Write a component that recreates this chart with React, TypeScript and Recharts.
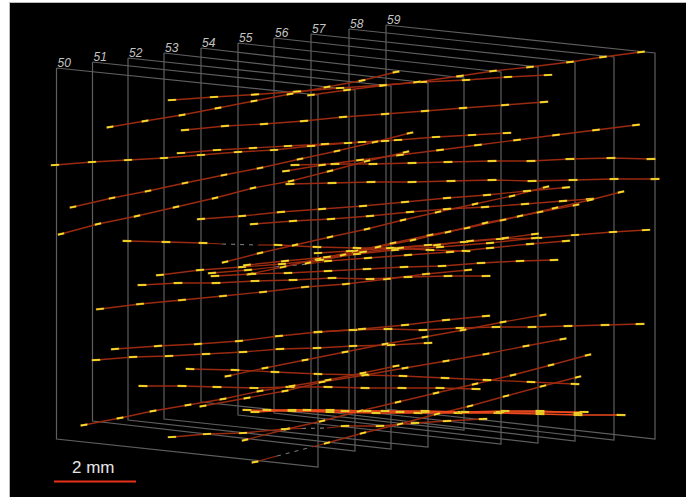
/**
 * Particle tracks through ten detector planes (50-59), seen in perspective.
 * Everything is a Scatter on hidden 1:1 pixel axes; yellow dashes are plane hits.
 */
import type { ReactElement } from "react";
import { ScatterChart, Scatter, XAxis, YAxis } from "recharts";

type Pt = [number, number];

const WIDTH = 686;
const HEIGHT = 497;

const planeLabels = ["50", "51", "52", "53", "54", "55", "56", "57", "58", "59"];
const planeLeftX = [56.5, 92.5, 128, 164, 201, 238, 274, 311, 349, 386];
const planeRightX = [318, 355, 391, 428, 464, 501, 538, 575, 614, 655];
const planeTopLeftY = [68, 62, 58, 53, 48, 43, 38, 34, 29, 25];
const planeTopRightY = [95, 90, 86, 83, 78, 72, 67, 62, 57, 53];
const planeBottomLeftY = [439, 421, 420, 419, 402, 415, 413, 410, 410, 409];
const planeBottomRightY = [467, 451, 449, 447, 430, 444, 443, 441, 440, 439];

// upper tracks
const trackTop1: Pt[] = [[172, 100], [214, 97], [255, 94.5], [297, 91.5], [340, 88], [383, 85], [423, 82], [466, 80], [508, 77], [548, 75]];
const trackTop2: Pt[] = [[311, 95], [347, 90], [383, 85.5], [417, 82], [460, 76], [493, 71], [530, 67], [570, 62], [603, 57], [641, 52]];
const trackTop3: Pt[] = [[110, 127], [145, 121], [182, 115], [218, 108], [254, 101], [290, 94], [327, 87], [362, 80.5], [396, 72]];
const trackTop4: Pt[] = [[185, 130], [225, 126], [264, 124], [304, 121], [343, 117], [385, 114], [425, 111], [463, 108], [505, 105], [544, 102]];
const trackUp1: Pt[] = [[55, 165], [92, 162], [128, 160], [164, 158], [201, 155], [238, 152], [274, 150], [311, 146], [348, 143], [385, 141]];
const trackUp2: Pt[] = [[181, 153], [217, 150], [253, 148], [288, 146], [325, 144], [362, 142], [398, 140], [436, 137], [472, 135], [507, 133]];
const trackUp3: Pt[] = [[73, 207], [112, 198], [148, 191], [185, 183], [224, 175], [260, 168], [300, 159], [337, 151], [375, 142], [410, 133]];
const trackUp4: Pt[] = [[61, 234], [98, 224], [137, 216], [176, 207], [215, 198], [253, 188], [291, 181], [330, 171], [367, 161], [406, 152]];
const trackUp5: Pt[] = [[286, 171], [322, 165], [360, 160], [400, 155], [440, 150], [478, 145], [517, 140], [556, 135], [596, 130], [636, 125]];
const trackFlat1: Pt[] = [[295, 165], [335, 164], [373, 164], [412, 163], [448, 162], [492, 161], [531, 161], [570, 159], [611, 158], [651, 159]];
const trackFlat2: Pt[] = [[290, 184], [332, 183], [371, 182], [412, 182], [451, 181], [492, 180], [532, 181], [573, 180], [614, 179], [655, 179]];
const trackMid1: Pt[] = [[201, 219], [242, 216], [281, 212], [322, 209], [363, 206], [405, 202], [447, 198], [487, 195], [527, 191], [566, 187.5]];
const trackMid2: Pt[] = [[254, 224], [293, 221], [331, 219], [370, 216], [410, 212], [447, 209], [485, 207], [525, 204], [563, 201], [590, 199]];

// central cluster
const trackRise1: Pt[] = [[225, 262], [260, 253], [295, 245], [330, 237], [367, 229], [403, 220], [438, 212], [475, 204], [512, 196], [546, 187]];
const trackRise2: Pt[] = [[250, 274], [283, 267], [318, 259], [355, 251], [393, 243], [430, 235], [467, 228], [503, 220], [540, 212], [576, 205]];
const trackRise3: Pt[] = [[308, 263], [343, 255], [378, 247], [413, 240], [448, 232], [485, 223], [520, 216], [555, 208], [590, 200], [621, 192]];
const trackGapA1: Pt[] = [[127, 241], [166, 242], [203, 243]];
const trackGapA2: Pt[] = [[278, 245], [317, 247], [357, 248], [392, 248], [430, 250], [466, 251]];
const trackLong1: Pt[] = [[318, 253], [350, 251], [390, 248], [428, 245], [464, 242], [500, 239], [538, 238], [575, 235], [613, 232], [646, 230]];
const trackSlant1: Pt[] = [[160, 275], [200, 270], [242, 267], [282, 264], [320, 260], [357, 254], [395, 250], [440, 247], [490, 243], [535, 238]];
const trackSlant2: Pt[] = [[247, 265], [285, 261], [327, 257], [363, 252], [400, 248], [437, 245], [470, 241], [505, 238], [535, 234]];
const trackGapB1: Pt[] = [[212, 273], [248, 270]];
const trackGapB2: Pt[] = [[328, 261], [368, 258], [408, 255], [450, 252], [490, 248], [530, 244], [566, 241]];
const trackRow1: Pt[] = [[142, 285], [178, 283], [216, 283], [255, 281], [293, 280], [332, 278], [370, 279], [408, 277], [448, 276], [486, 276]];
const trackRow2: Pt[] = [[215, 276], [252, 274], [288, 273], [328, 271], [367, 269], [404, 267], [442, 266], [481, 263], [520, 261], [554, 260]];
const trackRow3: Pt[] = [[100, 309], [140, 304], [182, 300], [223, 296], [263, 292], [305, 287], [346, 284], [387, 279], [426, 274], [468, 270]];

// lower tracks
const trackLow1: Pt[] = [[115, 349], [158, 346], [198, 344], [239, 341], [279, 336], [318, 332], [362, 329], [405, 325], [446, 320], [486, 316]];
const trackLow2: Pt[] = [[318, 332], [353, 330], [388, 329], [423, 330], [460, 328], [496, 327], [532, 327], [568, 326], [605, 325], [640, 324]];
const trackLow3: Pt[] = [[96, 360], [133, 357], [169, 356], [206, 354], [243, 352], [280, 349], [317, 348], [353, 346], [391, 345], [428, 343]];
const trackLow4: Pt[] = [[190, 369], [235, 370], [275, 372], [318, 374], [365, 375], [403, 376], [445, 378], [487, 380], [531, 382], [575, 384]];
const trackLow5: Pt[] = [[228, 376], [265, 368], [305, 360], [345, 352], [385, 344], [425, 337], [463, 330], [503, 322], [543, 315]];
const trackLow6: Pt[] = [[143, 386], [182, 386], [217, 387], [254, 388], [290, 387], [328, 387], [365, 388], [402, 388], [440, 388], [476, 389]];
const trackLow7: Pt[] = [[84, 425], [120, 418], [153, 411], [188, 405], [223, 399], [260, 391], [292, 386], [328, 380], [363, 373], [396, 366]];
const trackLow8: Pt[] = [[203, 406], [247, 398], [285, 391], [322, 382], [365, 375], [405, 368], [446, 361], [486, 354], [526, 346], [563, 339]];
const trackLow9: Pt[] = [[245, 440], [287, 429], [322, 421], [360, 411], [398, 402], [436, 393], [475, 384], [513, 375], [551, 365], [588, 355]];
const trackGapC1: Pt[] = [[255, 462]];
const trackGapC2: Pt[] = [[327, 443], [363, 433], [400, 424], [437, 414], [470, 406], [506, 396], [543, 386], [578, 377]];
const trackGapD1: Pt[] = [[172, 437], [207, 434], [243, 433], [285, 429]];
const trackGapD2: Pt[] = [[345, 426], [380, 426], [415, 423], [447, 421], [483, 419]];

// bright bundle along the floor
const bundle1: Pt[] = [[247, 410], [292, 411], [330, 412], [376, 413], [418, 413], [458, 413], [498, 413], [540, 414], [578, 415], [621, 415]];
const bundle2: Pt[] = [[255, 412], [292, 410], [330, 410], [367, 411], [400, 412], [425, 412], [462, 412], [500, 412], [540, 412], [584, 412]];
const bundle3: Pt[] = [[267, 410], [307, 410], [345, 411], [385, 411], [425, 411], [465, 412], [505, 411], [540, 411], [578, 413]];

const tracks: Pt[][] = [
  trackTop1, trackTop2, trackTop3, trackTop4, trackUp1, trackUp2, trackUp3, trackUp4, trackUp5,
  trackFlat1, trackFlat2, trackMid1, trackMid2, trackRise1, trackRise2, trackRise3,
  trackGapA2, trackLong1, trackSlant1, trackSlant2, trackGapB2, trackRow1, trackRow2, trackRow3,
  trackLow1, trackLow2, trackLow3, trackLow4, trackLow5, trackLow6, trackLow7, trackLow8, trackLow9,
  trackGapC2, trackGapD1, trackGapD2,
];
const shortTracks: Pt[][] = [trackGapA1, trackGapB1, trackGapC1];
const bundleTracks: Pt[][] = [bundle1, bundle2, bundle3];

// stretches where a track fades out: solid leads, then grey dashes
const gapLeads: Pt[][] = [
  [[203, 243], [222, 244]],
  [[258, 245], [278, 245]],
  [[248, 270], [275, 267]],
  [[308, 264], [328, 261]],
  [[255, 462], [277, 456]],
  [[312, 447], [327, 443]],
  [[285, 429], [302, 428.5]],
  [[327, 428], [345, 426]],
];
const gapDashes: Pt[][] = [
  [[222, 244], [258, 245]],
  [[275, 267], [308, 264]],
  [[277, 456], [312, 447]],
  [[302, 428.5], [327, 428]],
];

const scaleBar: Pt[] = [[54, 481.5], [136, 481.5]];
const scaleLabel = "2 mm";
const scaleLabelAt: Pt = [72, 473];

const FRAME = "#5e5e5e";
const TRACK = "#9a2a10";
const BRIGHT = "#ee4a1e";
const HIT = "#f3e82c";

interface Row {
  x: number;
  y: number;
  slope: number;
  text?: string;
}

function toRows(points: Pt[]): Row[] {
  const first = points[0];
  const last = points[points.length - 1];
  const slope = last[0] === first[0] ? -0.2 : (last[1] - first[1]) / (last[0] - first[0]);
  return points.map(([x, y]) => ({ x, y, slope }));
}

const NoPoint = (): ReactElement => <g />;

/** Short yellow dash at a plane hit, tilted along its track; flat tracks show longer dashes. */
function HitDash(props: { cx?: number; cy?: number; payload?: Row }): ReactElement {
  const { cx = 0, cy = 0, payload } = props;
  const slope = payload?.slope ?? 0;
  const half = Math.max(2.8, 4.2 - 6 * Math.abs(slope));
  const dy = slope * half;
  return (
    <g>
      <line x1={cx - half - 0.5} y1={cy - dy} x2={cx + half + 0.5} y2={cy + dy} stroke="#c9801c" strokeWidth={2.2} />
      <line x1={cx - half} y1={cy - dy} x2={cx + half} y2={cy + dy} stroke={HIT} strokeWidth={1.5} />
    </g>
  );
}

function PlaneLabel(props: { cx?: number; cy?: number; payload?: Row }): ReactElement {
  const { cx = 0, cy = 0, payload } = props;
  return (
    <text x={cx + 1} y={cy - 1} fontFamily="Liberation Sans" fontStyle="italic" fontSize={12} fill="#c4c4c4">
      {payload?.text}
    </text>
  );
}

function ScaleText(props: { cx?: number; cy?: number }): ReactElement {
  return (
    <text x={props.cx} y={props.cy} fontFamily="Liberation Sans" fontSize={17} fill="#e6e6e6">
      {scaleLabel}
    </text>
  );
}

const planeOutlines: Row[][] = planeLabels.map((_, i) =>
  toRows([
    [planeLeftX[i], planeTopLeftY[i]],
    [planeRightX[i], planeTopRightY[i]],
    [planeRightX[i], planeBottomRightY[i]],
    [planeLeftX[i], planeBottomLeftY[i]],
    [planeLeftX[i], planeTopLeftY[i]],
  ]),
);

const labelRows: Row[] = planeLabels.map((text, i) => ({
  x: planeLeftX[i],
  y: planeTopLeftY[i],
  slope: 0,
  text,
}));

export default function App(): ReactElement {
  return (
    <div style={{ position: "absolute", left: 0, top: 0, width: WIDTH, height: HEIGHT, background: "#fff", overflow: "hidden" }}>
      <div style={{ position: "absolute", left: 9, top: 2, right: 0, bottom: 0, background: "#000", borderLeft: "1px solid #bbb", borderTop: "1px solid #bbb" }} />
      <div style={{ position: "absolute", left: 0, top: 0 }}>
        <ScatterChart width={WIDTH} height={HEIGHT} margin={{ top: 0, right: 0, bottom: 0, left: 0 }}>
          <XAxis type="number" dataKey="x" domain={[0, WIDTH]} hide />
          <YAxis type="number" dataKey="y" domain={[0, HEIGHT]} reversed hide />
          {planeOutlines.map((rows, i) => (
            <Scatter key={`plane-${i}`} data={rows} shape={NoPoint} line={{ stroke: FRAME, strokeWidth: 1.2 }} isAnimationActive={false} />
          ))}
          <Scatter data={labelRows} shape={PlaneLabel} isAnimationActive={false} />
          {gapDashes.map((points, i) => (
            <Scatter key={`dash-${i}`} data={toRows(points)} shape={NoPoint} line={{ stroke: "#777", strokeWidth: 1.2, strokeDasharray: "4 5" }} isAnimationActive={false} />
          ))}
          {gapLeads.map((points, i) => (
            <Scatter key={`lead-${i}`} data={toRows(points)} shape={NoPoint} line={{ stroke: TRACK, strokeWidth: 1.2 }} isAnimationActive={false} />
          ))}
          {[...tracks, ...shortTracks].map((points, i) => (
            <Scatter key={`track-${i}`} data={toRows(points)} shape={NoPoint} line={{ stroke: TRACK, strokeWidth: 1.3 }} isAnimationActive={false} />
          ))}
          {bundleTracks.map((points, i) => (
            <Scatter key={`bundle-${i}`} data={toRows(points)} shape={NoPoint} line={{ stroke: BRIGHT, strokeWidth: 1.5 }} isAnimationActive={false} />
          ))}
          {[...tracks, ...shortTracks, ...bundleTracks].map((points, i) => (
            <Scatter key={`hits-${i}`} data={toRows(points)} shape={HitDash} isAnimationActive={false} />
          ))}
          <Scatter data={toRows(scaleBar)} shape={NoPoint} line={{ stroke: "#e8301c", strokeWidth: 1.8 }} isAnimationActive={false} />
          <Scatter data={toRows([scaleLabelAt])} shape={ScaleText} isAnimationActive={false} />
        </ScatterChart>
      </div>
    </div>
  );
}
